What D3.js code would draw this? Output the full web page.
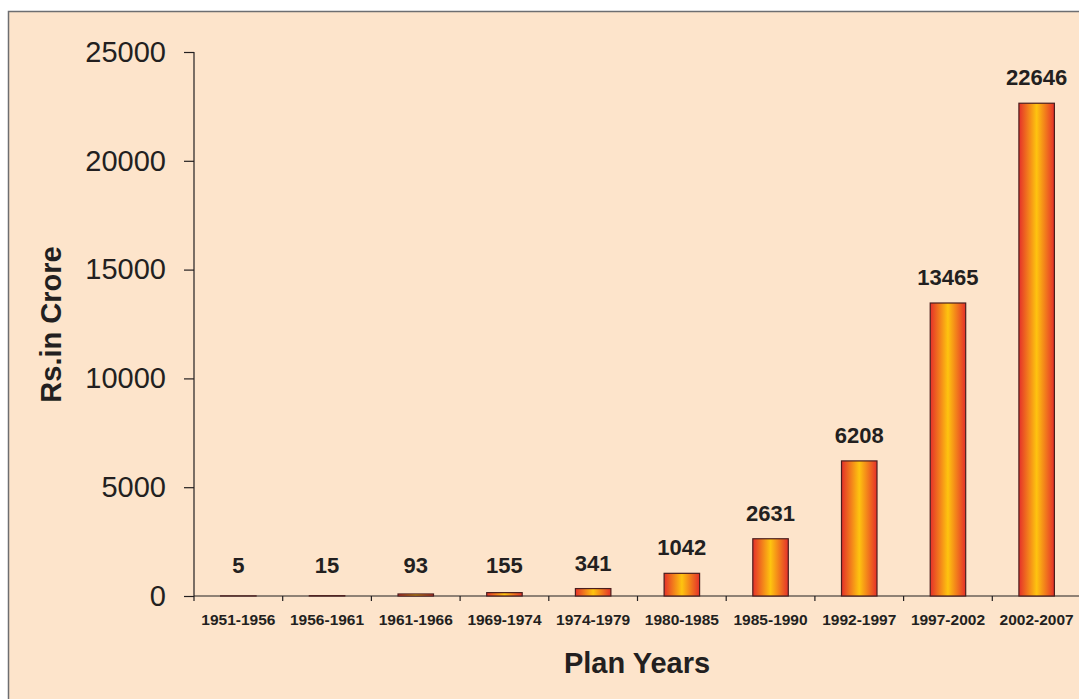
<!DOCTYPE html>
<html>
<head>
<meta charset="utf-8">
<script src="https://cdn.jsdelivr.net/npm/d3@7"></script>
<style>
  html, body { margin: 0; padding: 0; background: #ffffff; }
  svg { display: block; }
  text { font-family: "Liberation Sans", Arial, sans-serif; fill: #231f20; }
</style>
</head>
<body>
<svg id="chart" width="1079" height="699"></svg>
<script>
// Plan outlay by Five Year Plan period (Rs. in crore)
const planYears = ["1951-1956", "1956-1961", "1961-1966", "1969-1974", "1974-1979",
                   "1980-1985", "1985-1990", "1992-1997", "1997-2002", "2002-2007"];
const outlay = [5, 15, 93, 155, 341, 1042, 2631, 6208, 13465, 22646];
const yTicks = [0, 5000, 10000, 15000, 20000, 25000];

const svg = d3.select("#chart");
const W = 1079, H = 699;

// panel background with grey frame
svg.append("rect")
  .attr("x", 8.5).attr("y", 11.5)
  .attr("width", W + 10).attr("height", H + 10)
  .attr("fill", "#fde4cb")
  .attr("stroke", "#6d6e71").attr("stroke-width", 1.5);

const plot = { left: 194, right: 1081, top: 52, bottom: 596 };

const x = d3.scaleBand().domain(planYears).range([plot.left, plot.right]).padding(0);
const y = d3.scaleLinear().domain([0, 25000]).range([plot.bottom, plot.top]);

// horizontal gradient for the bars: red edges, golden centre
const defs = svg.append("defs");
const grad = defs.append("linearGradient").attr("id", "barFill")
  .attr("x1", "0%").attr("x2", "100%").attr("y1", "0%").attr("y2", "0%");
grad.append("stop").attr("offset", "0%").attr("stop-color", "#e5302a");
grad.append("stop").attr("offset", "50%").attr("stop-color", "#fec40f");
grad.append("stop").attr("offset", "100%").attr("stop-color", "#e5302a");

// y axis
const yAxis = svg.append("g")
  .attr("transform", `translate(${plot.left},0)`)
  .call(d3.axisLeft(y).tickValues(yTicks).tickSize(10).tickPadding(18).tickFormat(d3.format("d")));
yAxis.select(".domain").attr("stroke", "#231f20").attr("stroke-width", 1.2)
  .attr("d", `M0,${plot.top}V${plot.bottom}`);
yAxis.selectAll(".tick line").attr("stroke", "#231f20").attr("stroke-width", 1.2);
yAxis.selectAll(".tick text")
  .attr("font-size", 29).attr("fill", "#231f20")
  .attr("font-family", "\"Liberation Sans\", Arial, sans-serif");

// x axis: ticks sit on band boundaries
const xAxis = svg.append("g").attr("transform", `translate(0,${plot.bottom})`);
xAxis.append("line")
  .attr("x1", plot.left).attr("x2", plot.right)
  .attr("stroke", "#231f20").attr("stroke-width", 1.2);
xAxis.selectAll("line.tick")
  .data(planYears)
  .join("line").attr("class", "tick")
  .attr("x1", d => x(d)).attr("x2", d => x(d))
  .attr("y1", 0).attr("y2", 5)
  .attr("stroke", "#231f20").attr("stroke-width", 1.2);
xAxis.selectAll("text.cat")
  .data(planYears)
  .join("text").attr("class", "cat")
  .attr("x", d => x(d) + x.bandwidth() / 2)
  .attr("y", 29)
  .attr("text-anchor", "middle")
  .attr("font-size", 15.5).attr("font-weight", "bold")
  .text(d => d);

// bars
const barW = x.bandwidth() * 0.4;
svg.append("g").selectAll("rect")
  .data(planYears.map((c, i) => ({ c, v: outlay[i] })))
  .join("rect")
  .attr("x", d => x(d.c) + (x.bandwidth() - barW) / 2)
  .attr("y", d => y(d.v))
  .attr("width", barW)
  .attr("height", d => y(0) - y(d.v))
  .attr("fill", "url(#barFill)")
  .attr("stroke", "#4a1e1e").attr("stroke-width", 1.2);

// value labels
svg.append("g").selectAll("text")
  .data(planYears.map((c, i) => ({ c, v: outlay[i] })))
  .join("text")
  .attr("x", d => x(d.c) + x.bandwidth() / 2)
  .attr("y", d => Math.min(y(d.v) - 18, 573))
  .attr("text-anchor", "middle")
  .attr("font-size", 22).attr("font-weight", "bold")
  .text(d => d.v);

// axis titles
svg.append("text")
  .attr("transform", `translate(61,${(243 + 406) / 2}) rotate(-90)`)
  .attr("text-anchor", "middle")
  .attr("font-size", 29).attr("font-weight", "bold")
  .text("Rs.in Crore");

svg.append("text")
  .attr("x", 637).attr("y", 673)
  .attr("text-anchor", "middle")
  .attr("font-size", 29).attr("font-weight", "bold")
  .text("Plan Years");
</script>
</body>
</html>
